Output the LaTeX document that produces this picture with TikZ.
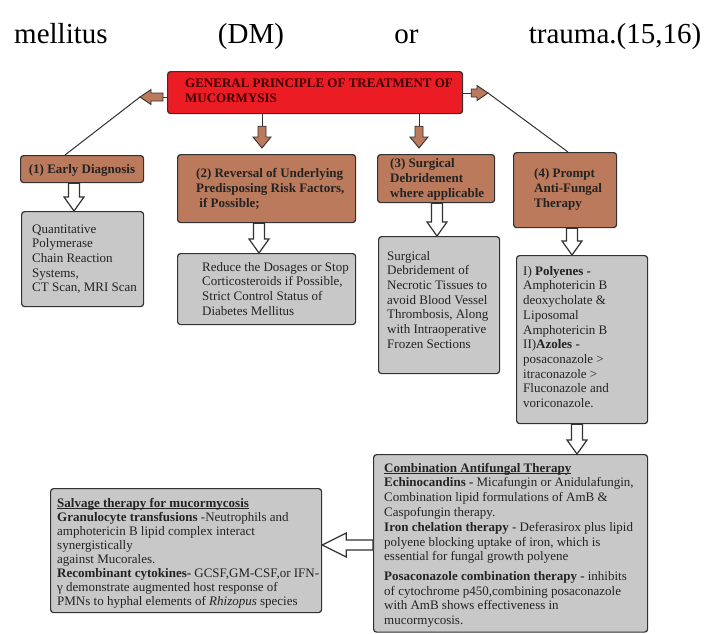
\documentclass[tikz,border=0pt]{standalone}
\usepackage{fontspec}
\setmainfont{Liberation Serif}
\usetikzlibrary{calc}
\definecolor{boxbrown}{RGB}{187,122,92}
\definecolor{boxgray}{RGB}{200,200,200}
\definecolor{boxred}{RGB}{236,28,36}
\definecolor{redink}{RGB}{60,0,0}
\definecolor{ink}{RGB}{35,35,35}
\definecolor{edge}{RGB}{50,50,50}
\newcommand\myul[1]{\begingroup\setbox0\hbox{#1}\rlap{\rule[-1.6pt]{\wd0}{0.6pt}}\box0\endgroup}
\tikzset{
  basebox/.style={draw=edge, line width=1.2pt, rounded corners=3pt, inner sep=0pt, anchor=north west},
  redbox/.style={basebox, fill=boxred},
  brownbox/.style={basebox, fill=boxbrown},
  graybox/.style={basebox, fill=boxgray},
  rtext/.style={anchor=north west, inner sep=0pt, align=left, text=redink, font=\fontsize{13}{15}\selectfont\bfseries},
  btext/.style={anchor=north west, inner sep=0pt, align=left, text=ink, font=\fontsize{13}{15}\selectfont\bfseries},
  gtext/.style={anchor=north west, inner sep=0pt, align=left, text=ink, font=\fontsize{13}{14.7}\selectfont},
  ctext/.style={anchor=north west, inner sep=0pt, align=left, text=ink, font=\fontsize{13}{14.8}\selectfont},
  stext/.style={anchor=north west, inner sep=0pt, align=left, text=ink, font=\fontsize{13}{14.1}\selectfont},
  vblock/.style n args={3}{to path={let \p1=(\tikztostart), \p2=(\tikztotarget) in
     (\x1-#1,\y1) -- (\x1-#1,\y2+#3) -- (\x1-#2,\y2+#3) -- (\x1,\y2) -- (\x1+#2,\y2+#3) -- (\x1+#1,\y2+#3) -- (\x1+#1,\y1) -- cycle}},
  hblock/.style n args={3}{to path={let \p1=(\tikztostart), \p2=(\tikztotarget), \p3=($(\tikztotarget)!#3!(\tikztostart)$) in
     (\x1,\y1+#1) -- (\x3,\y1+#1) -- (\x3,\y1+#2) -- (\x2,\y1) -- (\x3,\y1-#2) -- (\x3,\y1-#1) -- (\x1,\y1-#1) -- cycle}},
  brownV/.style={draw=edge, line width=0.9pt, fill=boxbrown, vblock={4pt}{9pt}{11pt}},
  brownH/.style={draw=edge, line width=0.9pt, fill=boxbrown, hblock={4pt}{7.5pt}{11pt}},
  hollowV/.style={draw=edge, line width=1.2pt, fill=white, vblock={5.5pt}{10pt}{14pt}},
  hollowH/.style={draw=edge, line width=1.2pt, fill=white, hblock={5pt}{12pt}{24pt}},
  stub/.style={draw=edge, line width=1pt},
  link/.style={draw=edge, line width=1pt},
}
\begin{document}
\begin{tikzpicture}[x=1pt,y=-1pt]
\useasboundingbox (0,0) rectangle (720,633);
\fill[white] (0,0) rectangle (720,633);

% top running text
\node[anchor=base west, inner sep=0pt, font=\fontsize{29}{33}\selectfont] (toptext) at (14,43)
  {\hbox to 687pt{mellitus\hfill (DM)\hfill or\hfill trauma.(15,16)}};

% boxes
\node[redbox, minimum width=295pt, minimum height=42pt] (red) at (167,71) {};
\node[brownbox, minimum width=123pt, minimum height=27pt] (b1) at (20,155) {};
\node[brownbox, minimum width=178pt, minimum height=68pt] (b2) at (177,154) {};
\node[brownbox, minimum width=117pt, minimum height=48pt] (b3) at (377,154) {};
\node[brownbox, minimum width=103pt, minimum height=75pt] (b4) at (513,152) {};
\node[graybox, minimum width=122pt, minimum height=95pt] (g1) at (21,211) {};
\node[graybox, minimum width=178pt, minimum height=71pt] (g2) at (177,253) {};
\node[graybox, minimum width=121pt, minimum height=137pt] (g3) at (378,236) {};
\node[graybox, minimum width=131pt, minimum height=168pt] (g4) at (516,255) {};
\node[graybox, minimum width=274pt, minimum height=177.5pt] (comb) at (373,454) {};
\node[graybox, minimum width=271pt, minimum height=124pt] (salv) at (50,488) {};

% texts
\node[rtext] (redt) at (185,76.5) {\strut GENERAL PRINCIPLE OF TREATMENT OF\\MUCORMYSIS};
\node[btext, anchor=base] (b1t) at (82,173) {(1) Early Diagnosis};
\node[btext] (b2t) at (196,166.5) {\strut(2) Reversal of Underlying\\Predisposing Risk Factors,\\\ if Possible;};
\node[btext] (b3t) at (390,156.5) {\strut(3) Surgical\\Debridement\\where applicable};
\node[btext] (b4t) at (534,166.5) {\strut(4) Prompt\\Anti-Fungal\\Therapy};
\node[gtext] (g1t) at (32,222.7) {\strut Quantitative\\Polymerase\\Chain Reaction\\Systems,\\CT Scan, MRI Scan};
\node[gtext] (g2t) at (202,260.7) {\strut Reduce the Dosages or Stop\\Corticosteroids if Possible,\\Strict Control Status of\\Diabetes Mellitus};
\node[gtext] (g3t) at (387,249.7) {\strut Surgical\\Debridement of\\Necrotic Tissues to\\avoid Blood Vessel\\Thrombosis, Along\\with Intraoperative\\Frozen Sections};
\node[gtext] (g4t) at (523,264.7) {\strut I) \textbf{Polyenes -}\\Amphotericin B\\deoxycholate \&\\Liposomal\\Amphotericin B\\II)\textbf{Azoles -}\\posaconazole >\\itraconazole >\\Fluconazole and\\voriconazole.};
\node[ctext] (combt) at (384,461.6) {\strut\myul{\textbf{Combination Antifungal Therapy}}\\
  \textbf{Echinocandins -} Micafungin or Anidulafungin,\\
  Combination lipid formulations of AmB \&\\
  Caspofungin therapy.\\
  \textbf{Iron chelation therapy} - Deferasirox plus lipid\\
  polyene blocking uptake of iron, which is\\
  essential for fungal growth polyene\\[4.5pt]
  \textbf{Posaconazole combination therapy -} inhibits\\
  of cytochrome p450,combining posaconazole\\
  with AmB shows effectiveness in\\
  mucormycosis.};
\node[stext] (salvt) at (57,497.1) {\strut\myul{\textbf{Salvage therapy for mucormycosis}}\\
  \textbf{Granulocyte transfusions} -Neutrophils and\\
  amphotericin B lipid complex interact\\
  synergistically\\
  against Mucorales.\\
  \textbf{Recombinant cytokines-} GCSF,GM-CSF,or IFN-\\
  γ demonstrate augmented host response of\\
  PMNs to hyphal elements of \textit{Rhizopus} species};

% helper coordinates
\coordinate (ax1) at (262,0);
\coordinate (ax2) at (419,0);
\coordinate (hx1) at (74,0);
\coordinate (hx2) at (259,0);
\coordinate (hx3) at (437,0);
\coordinate (hx4) at (572,0);
\coordinate (hx5) at (577,0);
\coordinate (ly) at (0,97);
\coordinate (ry) at (0,93);
\coordinate (ltip) at (140,97);
\coordinate (rtip) at (488,93);
\coordinate (lx) at (65,0);
\coordinate (rx) at (568,0);
\coordinate (cy) at (0,545);

% brown arrows from the red box
\draw[stub] (red.south -| ax1) -- ++(0,12) coordinate (s1);
\draw[brownV] (s1) to ($(b2.north -| ax1)+(0,-6)$);
\draw[stub] (red.south -| ax2) -- ++(0,12) coordinate (s2);
\draw[brownV] (s2) to ($(b3.north -| ax2)+(0,-6)$);
\draw[stub] (red.west |- ly) -- ++(-4,0) coordinate (s3);
\draw[brownH] (s3) to (ltip);
\draw[stub] (red.east |- ry) -- ++(8,0) coordinate (s4);
\draw[brownH] (s4) to (rtip);
\draw[link] (ltip) -- (b1.north -| lx);
\draw[link] (rtip) -- (b4.north -| rx);

% hollow arrows
\draw[hollowV] (b1.south -| hx1) to (g1.north -| hx1);
\draw[hollowV] (b2.south -| hx2) to (g2.north -| hx2);
\draw[hollowV] (b3.south -| hx3) to (g3.north -| hx3);
\draw[hollowV] (b4.south -| hx4) to (g4.north -| hx4);
\draw[hollowV] (g4.south -| hx5) to (comb.north -| hx5);
\draw[hollowH] (comb.west |- cy) to (salv.east |- cy);
\end{tikzpicture}
\end{document}
